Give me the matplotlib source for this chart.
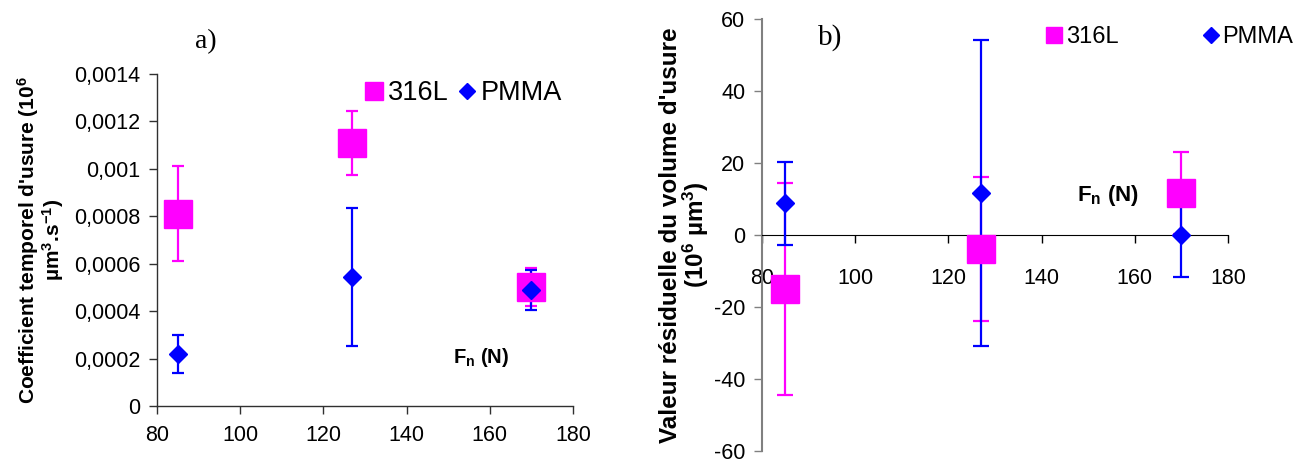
import matplotlib
matplotlib.use("Agg")
import matplotlib.pyplot as plt
from matplotlib.lines import Line2D
from matplotlib.ticker import FixedLocator, FixedFormatter

# ---------------- data ----------------
force = [85, 127, 170]

# panel a) wear rate coefficient
a_316L = [0.00081, 0.00111, 0.00050]
a_316L_err = [0.00020, 0.000135, 0.00008]
a_pmma = [0.00022, 0.000545, 0.00049]
a_pmma_err = [0.00008, 0.00029, 0.000085]

a_yticks = [0, 0.0002, 0.0004, 0.0006, 0.0008, 0.001, 0.0012, 0.0014]
a_yticklabels = ["0", "0,0002", "0,0004", "0,0006", "0,0008", "0,001", "0,0012", "0,0014"]
a_xticks = [80, 100, 120, 140, 160, 180]

# panel b) residual wear volume
b_316L = [-15.0, -3.8, 11.7]
b_316L_err = [29.5, 20.0, 11.4]
b_pmma = [8.8, 11.8, 0.0]
b_pmma_err = [11.6, 42.5, 11.7]

b_yticks = [-60, -40, -20, 0, 20, 40, 60]
b_xticks = [80, 100, 120, 140, 160, 180]

MAG = "#FF00FF"
BLU = "#0000FF"

plt.rcParams["font.family"] = ["Liberation Sans", "DejaVu Sans"]
plt.rcParams["axes.unicode_minus"] = False
plt.rcParams["mathtext.fontset"] = "custom"
plt.rcParams["mathtext.rm"] = "Liberation Sans"
plt.rcParams["mathtext.it"] = "Liberation Sans:italic"
plt.rcParams["mathtext.bf"] = "Liberation Sans:bold"

fig = plt.figure(figsize=(13.07, 4.61), dpi=100)

# ---------------- panel a ----------------
ax1 = fig.add_axes([0.1201, 0.1193, 0.3183, 0.7202])
ax1.errorbar(force, a_316L, yerr=a_316L_err, fmt="none", ecolor=MAG,
             elinewidth=1.6, capsize=4.2, capthick=1.6, zorder=2)
ax1.errorbar(force, a_pmma, yerr=a_pmma_err, fmt="none", ecolor=BLU,
             elinewidth=1.6, capsize=4.2, capthick=1.6, zorder=3)
ax1.plot(force, a_316L, linestyle="none", marker="s", ms=20, color=MAG, zorder=4)
ax1.plot(force, a_pmma, linestyle="none", marker="D", ms=9, color=BLU, zorder=5)

ax1.set_xlim(80, 180)
ax1.set_ylim(0, 0.0014)
ax1.yaxis.set_major_locator(FixedLocator(a_yticks))
ax1.yaxis.set_major_formatter(FixedFormatter(a_yticklabels))
ax1.set_xticks(a_xticks)
for s in ["top", "right"]:
    ax1.spines[s].set_visible(False)
for s in ["left", "bottom"]:
    ax1.spines[s].set_color("#303030")
    ax1.spines[s].set_linewidth(1.0)
ax1.tick_params(axis="both", direction="out", length=6, width=1.0,
                color="#303030", labelsize=15.5)
ax1.tick_params(axis="y", pad=6)
ax1.tick_params(axis="x", pad=8)
ax1.set_ylabel("Coefficient temporel d'usure (10$^{\\mathbf{6}}$\n"
               "µm$^{\\mathbf{3}}$.s$^{\\mathbf{-1}}$)",
               fontsize=15, fontweight="bold", labelpad=6, linespacing=0.95)
fig.text(206 / 1307, 1 - 42 / 461, "a)", family=["Liberation Serif", "DejaVu Serif"],
         fontsize=20, ha="center", va="center")
fig.text(481 / 1307, 1 - 357 / 461, "F$_\\mathbf{n}$ (N)", fontsize=14.5,
         fontweight="bold", ha="center", va="center")

h1 = [Line2D([], [], linestyle="none", marker="s", ms=13, color=MAG),
      Line2D([], [], linestyle="none", marker="D", ms=8, color=BLU)]
ax1.legend(h1, ["316L", "PMMA"], ncol=2, frameon=False, fontsize=19.5,
           loc="center left", bbox_to_anchor=(366 / 1307, 1 - 93 / 461),
           bbox_transform=fig.transFigure, handlelength=0.6, handletextpad=0.2,
           columnspacing=0.4, borderpad=0, borderaxespad=0)

# ---------------- panel b ----------------
ax2 = fig.add_axes([0.5830, 0.0217, 0.3565, 0.9371])
ax2.errorbar(force, b_316L, yerr=b_316L_err, fmt="none", ecolor=MAG,
             elinewidth=1.6, capsize=5.8, capthick=1.6, zorder=2)
ax2.errorbar(force, b_pmma, yerr=b_pmma_err, fmt="none", ecolor=BLU,
             elinewidth=1.6, capsize=5.8, capthick=1.6, zorder=3)
ax2.plot(force, b_316L, linestyle="none", marker="s", ms=20, color=MAG, zorder=4)
ax2.plot(force, b_pmma, linestyle="none", marker="D", ms=9, color=BLU, zorder=5)

ax2.set_xlim(80, 180)
ax2.set_ylim(-60, 60)
ax2.set_yticks(b_yticks)
ax2.set_xticks(b_xticks)
ax2.spines["top"].set_visible(False)
ax2.spines["right"].set_visible(False)
ax2.spines["bottom"].set_position(("data", 0))
ax2.spines["bottom"].set_color("black")
ax2.spines["left"].set_color("#808080")
ax2.spines["left"].set_linewidth(1.5)
ax2.tick_params(axis="y", direction="out", length=6, width=1.0, color="#808080",
                labelsize=15.5, pad=6)
ax2.tick_params(axis="x", direction="out", length=6, width=1.0, color="black",
                labelsize=15.5, pad=18)
ax2.set_ylabel("Valeur résiduelle du volume d'usure\n(10$^{\\mathbf{6}}$ µm$^{\\mathbf{3}}$)",
               fontsize=17.5, fontweight="bold", labelpad=2, linespacing=0.95)
fig.text(830 / 1307, 1 - 38 / 461, "b)", family=["Liberation Serif", "DejaVu Serif"],
         fontsize=21, ha="center", va="center")
fig.text(1108 / 1307, 1 - 195 / 461, "F$_\\mathbf{n}$ (N)", fontsize=16,
         fontweight="bold", ha="center", va="center")

h2 = [Line2D([], [], linestyle="none", marker="s", ms=12, color=MAG),
      Line2D([], [], linestyle="none", marker="D", ms=8, color=BLU)]
ax2.legend(h2, ["316L", "PMMA"], ncol=2, frameon=False, fontsize=17,
           loc="center left", bbox_to_anchor=(1047 / 1307, 1 - 37 / 461),
           bbox_transform=fig.transFigure, handlelength=0.6, handletextpad=0.2,
           columnspacing=3.6, borderpad=0, borderaxespad=0)

fig.savefig("out.png", dpi=100)
